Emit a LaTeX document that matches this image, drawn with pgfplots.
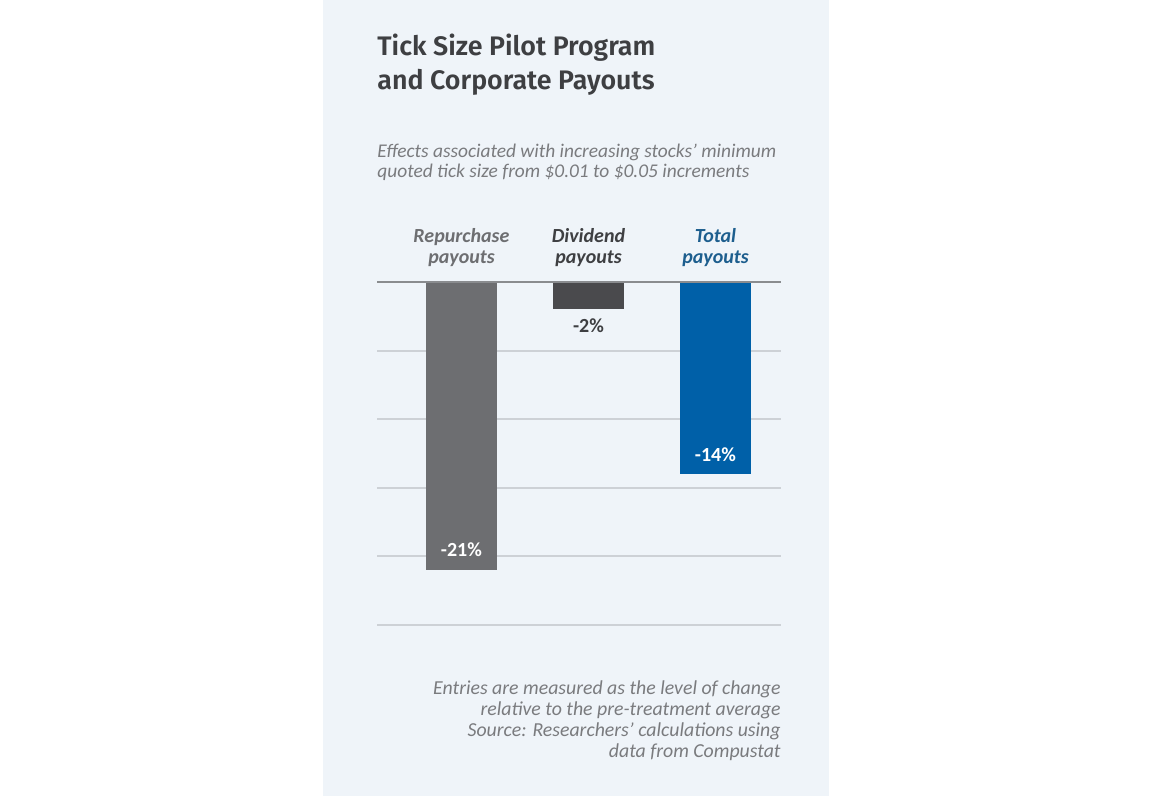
\documentclass[border=0pt]{standalone}
\usepackage{pgfplots}
\pgfplotsset{compat=1.18}
\usepackage{fontspec}
\setmainfont{Carlito}
\newfontfamily\titlefont{Fira Sans}[BoldFont={Fira Sans SemiBold}]
\definecolor{panel}{HTML}{EFF4F9}
\definecolor{titlegray}{HTML}{3E3F42}
\definecolor{subgray}{HTML}{7A7B7E}
\definecolor{repgray}{HTML}{6D6E71}
\definecolor{divgray}{HTML}{4A4A4D}
\definecolor{totblue}{HTML}{0060A8}
\definecolor{totlab}{HTML}{1D5E8E}
\definecolor{gridgray}{HTML}{CDD1D6}
\definecolor{zerogray}{HTML}{8A8C8F}
\begin{document}
\begin{tikzpicture}[x=0.5pt,y=0.5pt]
\fill[white] (0,0) rectangle (1152,796);
\fill[panel] (323,0) rectangle (829,796);
% title
\node[anchor=base west, inner sep=0, text=titlegray, font=\titlefont\bfseries\fontsize{13.4}{15}\selectfont] at (377,796-56) {Tick Size Pilot Program};
\node[anchor=base west, inner sep=0, text=titlegray, font=\titlefont\bfseries\fontsize{13.4}{15}\selectfont] at (377,796-90) {and Corporate Payouts};
% subtitle
\node[anchor=base west, inner sep=0, text=subgray, font=\itshape\fontsize{9.7}{10}\selectfont] at (377,796-158) {Effects associated with increasing stocks’ minimum};
\node[anchor=base west, inner sep=0, text=subgray, font=\itshape\fontsize{9.7}{10}\selectfont] at (377,796-178) {quoted tick size from \$0.01 to \$0.05 increments};
% footnote
\node[anchor=base east, inner sep=0, text=subgray, font=\itshape\fontsize{9.9}{10}\selectfont] at (781,796-695) {Entries are measured as the level of change};
\node[anchor=base east, inner sep=0, text=subgray, font=\itshape\fontsize{9.9}{10}\selectfont] at (781,796-716) {relative to the pre-treatment average};
\node[anchor=base east, inner sep=0, text=subgray, font=\itshape\fontsize{9.9}{10}\selectfont] at (781,796-737) {Source: Researchers’ calculations using};
\node[anchor=base east, inner sep=0, text=subgray, font=\itshape\fontsize{9.9}{10}\selectfont] at (781,796-758) {data from Compustat};
\begin{axis}[
  at={(188.5pt,85.5pt)}, anchor=south west,
  scale only axis, width=202pt, height=171.5pt,
  xmin=-0.665, xmax=2.516, ymin=-25, ymax=0,
  ytick={-25,-20,-15,-10,-5}, yticklabels={},
  ymajorgrids, grid style={color=gridgray, line width=1pt},
  axis line style={draw=none}, tick style={draw=none},
  xtick={0,1,2},
  xticklabel pos=upper,
  xticklabels={{\textcolor{repgray}{Repurchase}\\\textcolor{repgray}{payouts}},
               {\textcolor{titlegray}{Dividend}\\\textcolor{titlegray}{payouts}},
               {\textcolor{totlab}{Total}\\\textcolor{totlab}{payouts}}},
  xticklabel style={align=center, font=\bfseries\itshape\fontsize{10}{10.2}\selectfont, yshift=0pt},
  ybar, bar width=35.5pt, bar shift=0pt,
  point meta=explicit symbolic,
  nodes near coords,
  nodes near coords style={font=\bfseries\fontsize{10}{12}\selectfont, anchor=center},
  clip=false,
]
\addplot[draw=none, fill=repgray, nodes near coords style={text=white, yshift=10pt}] coordinates {(0,-21) [-21\%]};
\addplot[draw=none, fill=divgray, nodes near coords style={text=titlegray, yshift=-8pt}] coordinates {(1,-2) [-2\%]};
\addplot[draw=none, fill=totblue, nodes near coords style={text=white, yshift=9.5pt}] coordinates {(2,-14) [-14\%]};
\draw[zerogray, line width=1pt] (axis cs:-0.665,0) -- (axis cs:2.516,0);
\end{axis}
\end{tikzpicture}
\end{document}
